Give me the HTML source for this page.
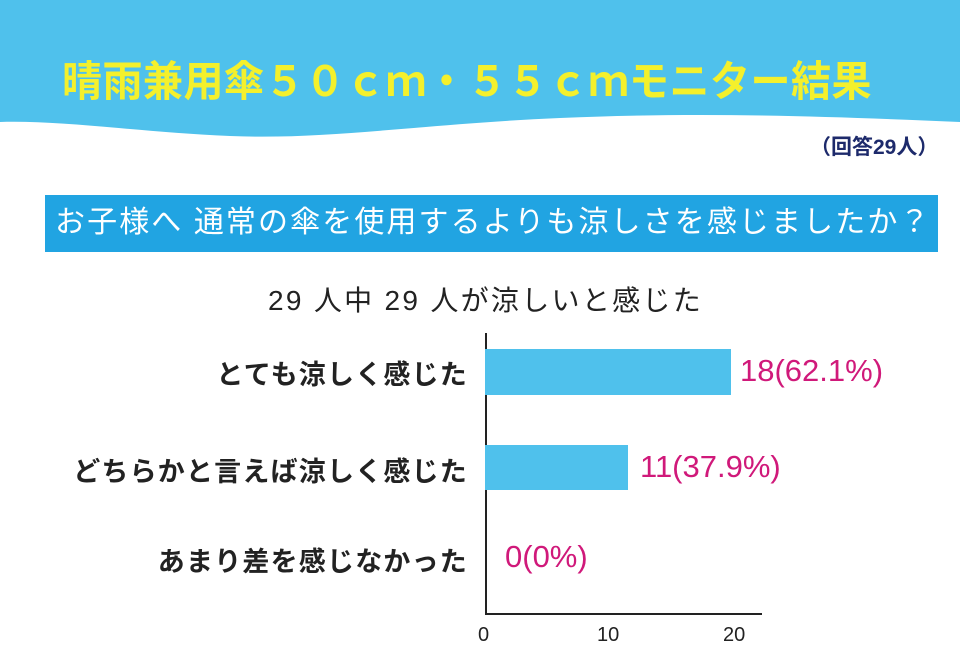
<!DOCTYPE html>
<html><head><meta charset="utf-8"><style>
body{margin:0;width:960px;height:663px;background:#fff;position:relative;overflow:hidden;font-family:"Liberation Sans","Noto Sans CJK JP",sans-serif}
.a{position:absolute;white-space:nowrap}
</style></head><body>
<svg class="a" style="left:0;top:0" width="960" height="160">
<path d="M0,0H960V122C820,116 700,112 560,118C420,124 330,140 230,136C140,132 60,120 0,122Z" fill="#4FC1EC"/>
</svg>
<div class="a" style="left:62px;top:50px;font-size:40px;letter-spacing:0.5px;font-weight:bold;color:#F4F02C;line-height:56px;font-family:'Noto Sans CJK JP',sans-serif;transform:scaleY(1.05)">晴雨兼用傘５０ｃｍ・５５ｃｍモニター結果</div>
<div class="a" style="left:810px;top:131px;font-size:21px;font-weight:bold;color:#1d2a6b">（回答29人）</div>
<div class="a" style="left:45px;top:195px;width:893px;height:57px;background:#21A4E2"></div>
<div class="a" style="left:55px;top:202px;font-size:30px;letter-spacing:2.1px;color:#fff;line-height:42px">お子様へ 通常の傘を使用するよりも涼しさを感じましたか？</div>
<div class="a" style="left:268px;top:279px;font-size:28px;letter-spacing:2.3px;color:#222">29 人中 29 人が涼しいと感じた</div>
<div class="a" style="left:0;width:468px;text-align:right;top:353px;font-size:27px;letter-spacing:1.2px;font-weight:bold;color:#222">とても涼しく感じた</div>
<div class="a" style="left:0;width:468px;text-align:right;top:450px;font-size:27px;letter-spacing:1.2px;font-weight:bold;color:#222">どちらかと言えば涼しく感じた</div>
<div class="a" style="left:0;width:468px;text-align:right;top:540px;font-size:27px;letter-spacing:1.2px;font-weight:bold;color:#222">あまり差を感じなかった</div>
<div class="a" style="left:485px;top:333px;width:2px;height:281px;background:#222"></div>
<div class="a" style="left:485px;top:613px;width:277px;height:2px;background:#222"></div>
<div class="a" style="left:485px;top:349px;width:246px;height:46px;background:#4FC1EC"></div>
<div class="a" style="left:485px;top:445px;width:143px;height:45px;background:#4FC1EC"></div>
<div class="a" style="left:740px;top:353px;font-size:31px;color:#D0197A">18(62.1%)</div>
<div class="a" style="left:640px;top:449px;font-size:31px;color:#D0197A">11(37.9%)</div>
<div class="a" style="left:505px;top:539px;font-size:31px;color:#D0197A">0(0%)</div>
<div class="a" style="left:478px;top:624px;font-size:20px;color:#222">0</div>
<div class="a" style="left:597px;top:624px;font-size:20px;color:#222">10</div>
<div class="a" style="left:723px;top:624px;font-size:20px;color:#222">20</div>
</body></html>
